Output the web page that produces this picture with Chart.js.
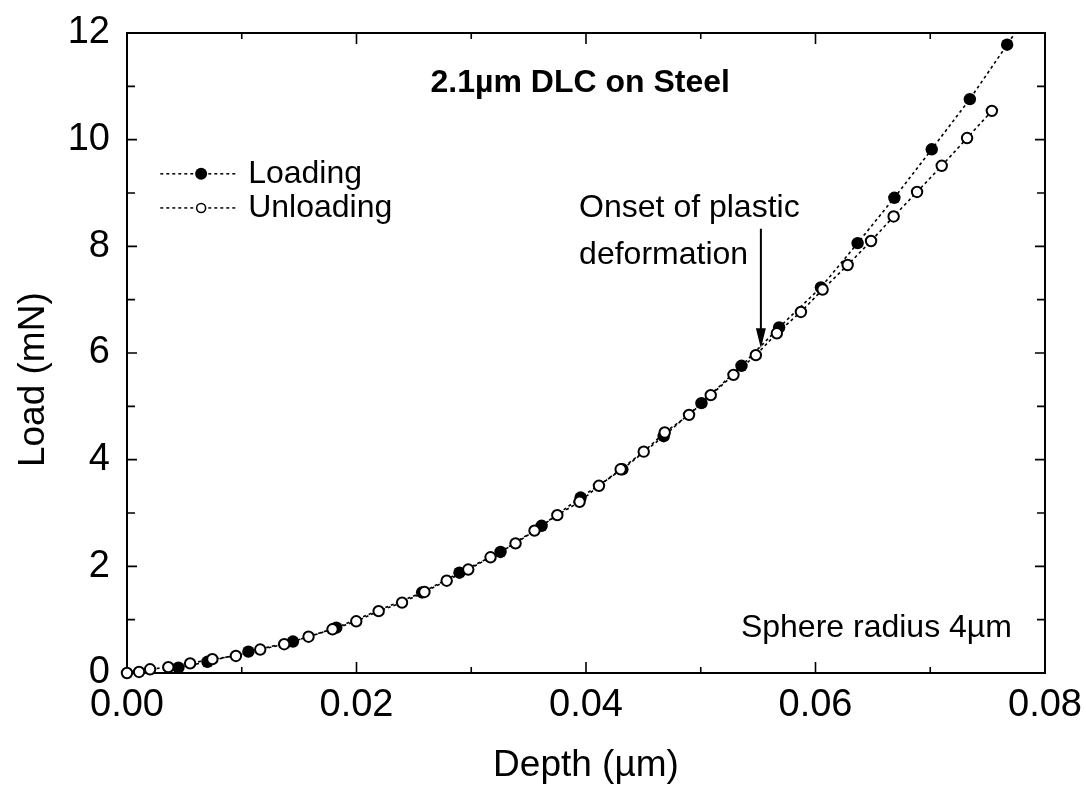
<!DOCTYPE html>
<html>
<head>
<meta charset="utf-8">
<script src="https://cdn.jsdelivr.net/npm/chart.js@4.4.0/dist/chart.umd.min.js"></script>
<style>
  html, body { margin: 0; padding: 0; background: #ffffff; }
  #wrap { width: 1086px; height: 787px; }
</style>
</head>
<body>
<div id="wrap"><canvas id="c" width="1086" height="787"></canvas></div>
<script>
// Nanoindentation load-depth data, 2.1 µm DLC film on steel
const loadingDepth = [0.00448, 0.00701, 0.01058, 0.01446, 0.01824, 0.02572, 0.02897, 0.03255,
  0.03613, 0.03953, 0.04317, 0.04677, 0.05006, 0.05355, 0.05683, 0.06047, 0.06367, 0.06687,
  0.07013, 0.07345, 0.07670, 0.08000];
const loadingLoad = [0.10, 0.21, 0.40, 0.59, 0.85, 1.51, 1.88, 2.27,
  2.76, 3.29, 3.82, 4.44, 5.06, 5.76, 6.48, 7.23, 8.06, 8.91,
  9.82, 10.76, 11.78, 12.85];

const unloadingDepth = [0.00000, 0.00105, 0.00201, 0.00360, 0.00550, 0.00744, 0.00949, 0.01161,
  0.01370, 0.01582, 0.01791, 0.01998, 0.02193, 0.02397, 0.02592, 0.02786, 0.02974, 0.03168,
  0.03386, 0.03551, 0.03750, 0.03944, 0.04113, 0.04302, 0.04503, 0.04686, 0.04898, 0.05087,
  0.05285, 0.05480, 0.05663, 0.05873, 0.06062, 0.06280, 0.06484, 0.06681, 0.06885, 0.07100,
  0.07321, 0.07537];
const unloadingLoad = [0.00, 0.02, 0.07, 0.11, 0.18, 0.26, 0.32, 0.44,
  0.54, 0.68, 0.82, 0.97, 1.16, 1.32, 1.52, 1.73, 1.94, 2.17,
  2.43, 2.67, 2.96, 3.21, 3.51, 3.82, 4.15, 4.51, 4.84, 5.21,
  5.59, 5.96, 6.37, 6.77, 7.19, 7.65, 8.10, 8.56, 9.02, 9.51,
  10.03, 10.54];

const depthTicks = [0.00, 0.02, 0.04, 0.06, 0.08];
const depthMinorTicks = [0.01, 0.03, 0.05, 0.07];
const loadTicks = [0, 2, 4, 6, 8, 10, 12];
const loadMinorTicks = [1, 3, 5, 7, 9, 11];

const FONT = '"Liberation Sans", Arial, Helvetica, sans-serif';
Chart.defaults.font.family = FONT;
Chart.defaults.color = '#000';

const toPoints = (xs, ys) => xs.map((x, i) => ({ x: x, y: ys[i] }));

// frame with inward ticks on all four sides
const framePlugin = {
  id: 'frame',
  beforeDatasetsDraw(chart) {
    const { ctx, chartArea: a, scales } = chart;
    const xs = scales.x, ys = scales.y;
    ctx.save();
    ctx.strokeStyle = '#000';
    ctx.lineWidth = 2;
    ctx.strokeRect(a.left, a.top, a.right - a.left, a.bottom - a.top);
    ctx.lineWidth = 1.6;
    ctx.beginPath();
    const xt = (v, len) => {
      const p = xs.getPixelForValue(v);
      ctx.moveTo(p, a.bottom); ctx.lineTo(p, a.bottom - len);
      ctx.moveTo(p, a.top); ctx.lineTo(p, a.top + len);
    };
    const yt = (v, len) => {
      const p = ys.getPixelForValue(v);
      ctx.moveTo(a.left, p); ctx.lineTo(a.left + len, p);
      ctx.moveTo(a.right, p); ctx.lineTo(a.right - len, p);
    };
    depthTicks.forEach(v => xt(v, 11));
    depthMinorTicks.forEach(v => xt(v, 6));
    loadTicks.forEach(v => yt(v, 10));
    loadMinorTicks.forEach(v => yt(v, 8));
    ctx.stroke();
    ctx.restore();
  }
};

// titles, legend and annotations
const textPlugin = {
  id: 'texts',
  afterDraw(chart) {
    const { ctx, chartArea: a, scales } = chart;
    const X = v => scales.x.getPixelForValue(v);
    const Y = v => scales.y.getPixelForValue(v);
    ctx.save();
    ctx.fillStyle = '#000';
    ctx.strokeStyle = '#000';

    // axis titles
    ctx.font = '37px ' + FONT;
    ctx.textAlign = 'center';
    ctx.textBaseline = 'middle';
    ctx.fillText('Depth (µm)', (a.left + a.right) / 2, 766);
    ctx.save();
    ctx.translate(34, Y(5.5));
    ctx.rotate(-Math.PI / 2);
    ctx.fillText('Load (mN)', 0, 0);
    ctx.restore();

    // chart title inside plot
    ctx.font = 'bold 32px ' + FONT;
    ctx.fillText('2.1µm DLC on Steel', X(0.0395), Y(11.06));

    // annotations
    ctx.font = '32px ' + FONT;
    ctx.textAlign = 'left';
    ctx.fillText('Onset of plastic', X(0.0394), Y(8.72));
    ctx.fillText('deformation', X(0.0394), Y(7.84));
    ctx.fillText('Sphere radius 4µm', X(0.0535), Y(0.84));

    // arrow to onset point
    const ax = X(0.05524), ay0 = Y(8.33), ay1 = Y(6.09);
    ctx.lineWidth = 2;
    ctx.beginPath();
    ctx.moveTo(ax, ay0); ctx.lineTo(ax, ay1 - 16);
    ctx.stroke();
    ctx.beginPath();
    ctx.moveTo(ax, ay1);
    ctx.lineTo(ax - 5, ay1 - 20);
    ctx.lineTo(ax + 5, ay1 - 20);
    ctx.closePath();
    ctx.fill();

    // legend
    const rows = [
      { label: 'Loading', y: Y(9.36), filled: true },
      { label: 'Unloading', y: Y(8.72), filled: false }
    ];
    rows.forEach(r => {
      ctx.lineWidth = 1.5;
      ctx.setLineDash([3, 3]);
      ctx.beginPath();
      ctx.moveTo(X(0.0029), r.y); ctx.lineTo(X(0.0096), r.y);
      ctx.stroke();
      ctx.setLineDash([]);
      ctx.beginPath();
      if (r.filled) {
        ctx.arc(X(0.00646), r.y, 6, 0, Math.PI * 2);
        ctx.fillStyle = '#000';
        ctx.fill();
      } else {
        ctx.arc(X(0.00646), r.y, 4.5, 0, Math.PI * 2);
        ctx.fillStyle = '#fff';
        ctx.fill();
        ctx.lineWidth = 1.6;
        ctx.stroke();
      }
      ctx.fillStyle = '#000';
      ctx.textAlign = 'left';
      ctx.textBaseline = 'middle';
      ctx.font = '32px ' + FONT;
      ctx.fillText(r.label, X(0.01056), r.y);
    });
    ctx.restore();
  }
};

new Chart(document.getElementById('c'), {
  type: 'scatter',
  data: {
    datasets: [
      {
        label: 'Loading',
        data: toPoints(loadingDepth, loadingLoad),
        showLine: true,
        borderColor: '#000',
        borderWidth: 1.6,
        borderDash: [3, 3],
        pointRadius: 6.2,
        pointBorderWidth: 0,
        pointBackgroundColor: '#000',
        pointBorderColor: '#000',
        order: 2
      },
      {
        label: 'Unloading',
        data: toPoints(unloadingDepth, unloadingLoad),
        showLine: true,
        borderColor: '#000',
        borderWidth: 1.6,
        borderDash: [3, 3],
        pointRadius: 5.2,
        pointBorderWidth: 2,
        pointBackgroundColor: '#fff',
        pointBorderColor: '#000',
        clip: false,
        order: 1
      }
    ]
  },
  options: {
    responsive: false,
    animation: false,
    devicePixelRatio: 1,
    layout: { padding: { left: 0, right: 41, top: 33, bottom: 0 } },
    plugins: { legend: { display: false }, tooltip: { enabled: false } },
    scales: {
      x: {
        type: 'linear',
        min: 0, max: 0.08,
        afterBuildTicks: s => { s.ticks = depthTicks.map(v => ({ value: v })); },
        afterFit: s => { s.height = 114; s.paddingLeft = 0; s.paddingRight = 0; },
        grid: { display: false, drawTicks: false },
        border: { display: false },
        ticks: {
          autoSkip: false, maxRotation: 0, padding: 10,
          font: { size: 38 }, color: '#000',
          callback: v => Number(v).toFixed(2)
        }
      },
      y: {
        type: 'linear',
        min: 0, max: 12,
        afterBuildTicks: s => { s.ticks = loadTicks.map(v => ({ value: v })); },
        afterFit: s => { s.width = 127; s.paddingTop = 0; s.paddingBottom = 0; },
        grid: { display: false, drawTicks: false },
        border: { display: false },
        ticks: {
          autoSkip: false, padding: 17,
          font: { size: 38 }, color: '#000',
          callback: v => String(v)
        }
      }
    }
  },
  plugins: [framePlugin, textPlugin]
});
</script>
</body>
</html>
